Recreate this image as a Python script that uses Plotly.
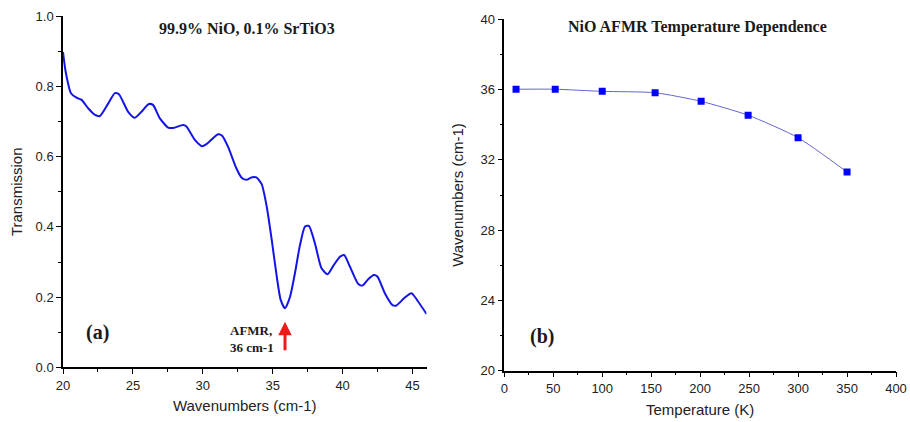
import plotly.graph_objects as go

# Panel (a): transmission spectrum
wavenumber = [20.0, 20.19, 20.57, 20.97, 21.33, 21.8, 22.29, 22.64, 23.24, 23.71, 24.0,
              24.66, 25.14, 25.61, 26.14, 26.45, 26.93, 27.52, 27.88, 28.59, 28.83,
              29.43, 29.95, 30.26, 31.09, 31.38, 31.81, 32.4, 32.76, 33.11, 33.47,
              33.83, 34.21, 34.57, 34.93, 35.29, 35.57, 35.88, 36.24, 36.59, 36.95,
              37.31, 37.59, 38.02, 38.49, 38.92, 39.33, 39.81, 40.11, 40.52, 41.12,
              41.43, 41.83, 42.24, 42.5, 43.02, 43.57, 43.85, 44.45, 44.93, 45.16, 46.0]
transmission = [0.898, 0.842, 0.781, 0.768, 0.762, 0.738, 0.719, 0.716, 0.752, 0.781, 0.778,
                 0.728, 0.711, 0.728, 0.750, 0.747, 0.709, 0.683, 0.682, 0.690, 0.686,
                 0.648, 0.630, 0.636, 0.664, 0.660, 0.628, 0.567, 0.541, 0.534, 0.541,
                 0.541, 0.522, 0.458, 0.363, 0.258, 0.192, 0.168, 0.201, 0.268, 0.348,
                 0.401, 0.403, 0.353, 0.282, 0.265, 0.289, 0.315, 0.320, 0.287, 0.237,
                 0.233, 0.251, 0.263, 0.258, 0.211, 0.177, 0.176, 0.199, 0.211, 0.201, 0.152]

# Panel (b): AFMR temperature dependence
temperature = [12, 52, 100, 154, 201, 249, 300, 350]
afmr = [36.02, 36.02, 35.9, 35.82, 35.33, 34.54, 33.26, 31.31]

W, H = 910, 422
L, R, T, B = 63, 14, 16, 51
PW, PH = W - L - R, H - T - B


def px(x):
    return (x - L) / PW


def py(y):
    return 1 - (y - T) / PH


def clamp(v):
    return min(1.0, max(0.0, v))


fig = go.Figure()
fig.add_trace(go.Scatter(x=wavenumber, y=transmission, mode="lines",
                         line=dict(color="#1414e6", width=2, shape="spline", smoothing=0.6),
                         xaxis="x", yaxis="y", showlegend=False))
fig.add_trace(go.Scatter(x=temperature, y=afmr, mode="lines",
                         line=dict(color="#6464cc", width=1, shape="spline", smoothing=0.6),
                         xaxis="x2", yaxis="y2", showlegend=False))
fig.add_trace(go.Scatter(x=temperature, y=afmr, mode="markers",
                         marker=dict(symbol="square", size=7, color="#0000ff"),
                         xaxis="x2", yaxis="y2", showlegend=False))

axis_font = dict(family="Liberation Sans, Arial", size=13, color="#222")
title_font = dict(family="Liberation Sans, Arial", size=15, color="#222")
common = dict(showline=True, linecolor="black", linewidth=1.5, showgrid=False, zeroline=False,
              ticks="outside", ticklen=5, tickwidth=1, tickcolor="black", tickfont=axis_font,
              automargin=False)

fig.update_layout(
    width=W, height=H, margin=dict(l=L, r=R, t=T, b=B),
    plot_bgcolor="white", paper_bgcolor="white",
    xaxis=dict(domain=[clamp(px(62.7)), clamp(px(426.5))], range=[20, 46], dtick=5, tick0=20, anchor="y",
               title=dict(text="Wavenumbers (cm-1)", font=title_font, standoff=9),
               minor=dict(dtick=2.5, ticklen=3, ticks="outside", tickcolor="black"), **common),
    yaxis=dict(domain=[clamp(py(367.3)), clamp(py(16.3))], range=[0, 1.0], dtick=0.2, tickformat=".1f",
               anchor="x",
               title=dict(text="Transmission", font=title_font, standoff=9),
               minor=dict(dtick=0.1, ticklen=3, ticks="outside", tickcolor="black"), **common),
    xaxis2=dict(domain=[clamp(px(504.3)), clamp(px(896.3))], range=[0, 400], dtick=50, anchor="y2",
                title=dict(text="Temperature (K)", font=title_font, standoff=9),
                minor=dict(dtick=25, ticklen=3, ticks="outside", tickcolor="black"), **common),
    yaxis2=dict(domain=[clamp(py(370.7)), clamp(py(19.3))], range=[20, 40], dtick=4, anchor="x2",
                title=dict(text="Wavenumbers (cm-1)", font=title_font, standoff=13),
                minor=dict(dtick=2, ticklen=3, ticks="outside", tickcolor="black"), **common),
)

serif_bold = dict(family="Liberation Serif, Times New Roman", color="#1a1a1a")
fig.add_annotation(text="<b>99.9% NiO, 0.1% SrTiO3</b>", xref="paper", yref="paper",
                   x=px(247), y=py(29), xanchor="center", yanchor="middle", showarrow=False,
                   font=dict(size=16, **serif_bold))
fig.add_annotation(text="<b>NiO AFMR Temperature Dependence</b>", xref="paper", yref="paper",
                   x=px(697), y=py(27), xanchor="center", yanchor="middle", showarrow=False,
                   font=dict(size=16, **serif_bold))
fig.add_annotation(text="<b>(a)</b>", xref="x", yref="y", x=22.5, y=0.099, showarrow=False,
                   font=dict(size=20, **serif_bold))
fig.add_annotation(text="<b>(b)</b>", xref="x2", yref="y2", x=38.5, y=21.95, showarrow=False,
                   font=dict(size=20, **serif_bold))
fig.add_annotation(text="<b>AFMR,<br>36 cm-1</b>", xref="x", yref="y", x=31.81, y=0.082,
                   xanchor="left", align="left", showarrow=False,
                   font=dict(size=13, **serif_bold))
fig.add_annotation(text="", xref="x", yref="y", x=35.88, y=0.13, axref="x", ayref="y",
                   ax=35.88, ay=0.044, showarrow=True, arrowhead=2, arrowsize=0.9,
                   arrowwidth=3, arrowcolor="#ee1b1b")

fig.write_html("out.html")
